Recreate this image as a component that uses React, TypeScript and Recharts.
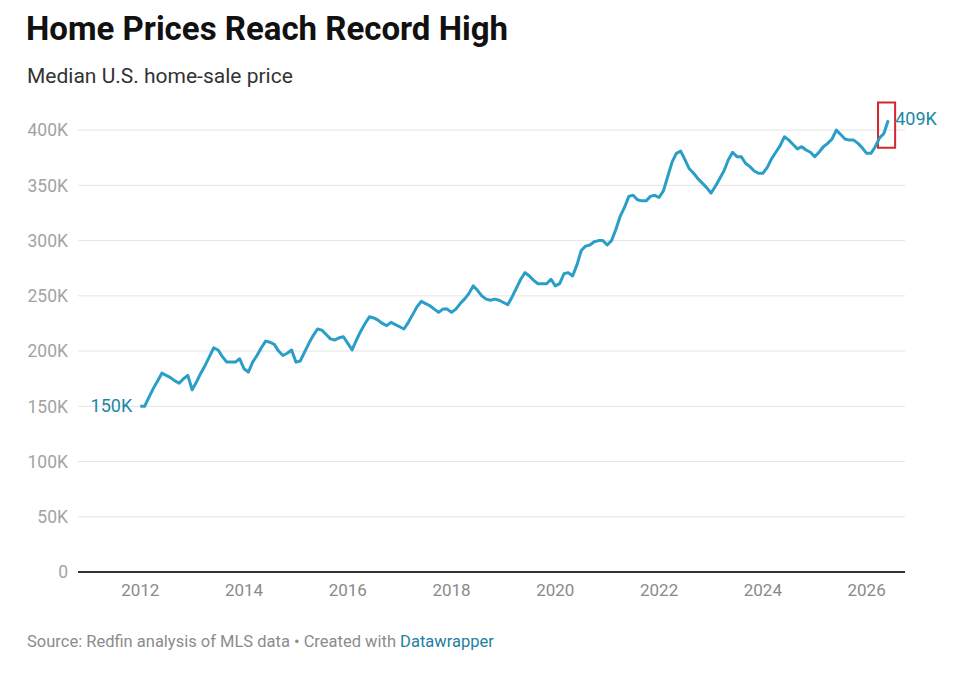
import React from 'react';
import {
  LineChart,
  Line,
  XAxis,
  YAxis,
  CartesianGrid,
  LabelList,
  ReferenceArea,
} from 'recharts';

// Median sale price, thousands of dollars, monthly from Jan 2012
const prices2012 = [150, 150, 158, 166, 173, 180, 178, 176, 173, 171, 175, 178];
const prices2013 = [165, 172, 180, 187, 195, 203, 201, 195, 190, 190, 190, 193];
const prices2014 = [184, 181, 190, 196, 203, 209, 208, 206, 200, 196, 198, 201];
const prices2015 = [190, 191, 199, 207, 214, 220, 219, 215, 211, 210, 212, 213];
const prices2016 = [207, 201, 210, 218, 225, 231, 230, 228, 225, 223, 226, 224];
const prices2017 = [222, 220, 226, 233, 240, 245, 243, 241, 238, 235, 238, 238];
const prices2018 = [235, 238, 243, 247, 252, 259, 255, 250, 247, 246, 247, 246];
const prices2019 = [244, 242, 249, 257, 265, 271, 268, 264, 261, 261, 261, 265];
const prices2020 = [259, 261, 270, 271, 268, 278, 291, 295, 296, 299, 300, 300];
const prices2021 = [296, 300, 310, 322, 330, 340, 341, 337, 336, 336, 340, 341];
const prices2022 = [339, 345, 358, 371, 379, 381, 373, 365, 361, 356, 352, 348];
const prices2023 = [343, 349, 356, 363, 373, 380, 376, 376, 370, 367, 363, 361];
const prices2024 = [361, 366, 374, 380, 386, 394, 391, 387, 383, 385, 382, 380];
const prices2025 = [376, 380, 385, 388, 392, 400, 396, 392, 391, 391, 388, 384];
const prices2026 = [379, 379, 385, 393, 397, 409];

const firstYear = 2012;
const yearTicks = [2012, 2014, 2016, 2018, 2020, 2022, 2024, 2026];
const priceTicks = [0, 50, 100, 150, 200, 250, 300, 350, 400];

// highlight box around the latest reading (data units)
const boxYears = [2026.22, 2026.55];
const boxPrices = [384, 425];

const allPrices = [
  ...prices2012, ...prices2013, ...prices2014, ...prices2015, ...prices2016,
  ...prices2017, ...prices2018, ...prices2019, ...prices2020, ...prices2021,
  ...prices2022, ...prices2023, ...prices2024, ...prices2025, ...prices2026,
];

const data = allPrices.map((price, i) => ({ t: firstYear + i / 12, price }));

const LINE = '#2a9ec6';
const LABEL = '#1b87a7';
const FONT = 'Roboto, "Noto Sans", sans-serif';

const EndLabel = (props: any) => {
  const { x, y, index, value } = props;
  if (index === 0) {
    return (
      <text x={x - 8} y={y} dy={6} textAnchor="end" fill={LABEL} fontSize={18} fontFamily={FONT}>
        {value}K
      </text>
    );
  }
  if (index === data.length - 1) {
    return (
      <text x={x + 7} y={y} dy={5} textAnchor="start" fill={LABEL} fontSize={18} fontFamily={FONT}>
        {value}K
      </text>
    );
  }
  return null;
};

export default function App() {
  return (
    <div
      style={{
        position: 'absolute',
        left: 0,
        top: 0,
        width: 975,
        height: 684,
        background: '#fff',
        fontFamily: FONT,
      }}
    >
      <div
        style={{
          position: 'absolute',
          left: 26,
          top: 12,
          fontSize: 33,
          lineHeight: '33px',
          fontWeight: 700,
          color: '#111',
        }}
      >
        Home Prices Reach Record High
      </div>
      <div
        style={{
          position: 'absolute',
          left: 27,
          top: 66,
          fontSize: 21,
          lineHeight: '21px',
          color: '#333',
        }}
      >
        Median U.S. home-sale price
      </div>

      <div style={{ position: 'absolute', left: 0, top: 0 }}>
        <LineChart
          width={975}
          height={620}
          data={data}
          margin={{ top: 97, right: 70, left: 0, bottom: 0 }}
        >
          <CartesianGrid vertical={false} stroke="#e4e4e4" horizontalValues={priceTicks} />
          <XAxis
            dataKey="t"
            type="number"
            domain={[2010.8, 2026.74]}
            ticks={yearTicks}
            tickLine={false}
            axisLine={{ stroke: '#333', strokeWidth: 2 }}
            tick={{ fontSize: 17, fill: '#8a8a8a', fontFamily: FONT }}
            tickMargin={6}
            height={48}
            allowDataOverflow
          />
          <YAxis
            type="number"
            domain={[0, 430]}
            ticks={priceTicks}
            tickLine={false}
            axisLine={false}
            width={78}
            tickMargin={4}
            tick={{ fontSize: 17.5, fill: '#a3a3a3', fontFamily: FONT }}
            tickFormatter={(v) => (v === 0 ? '0' : `${v}K`)}
          />
          <ReferenceArea
            x1={boxYears[0]}
            x2={boxYears[1]}
            y1={boxPrices[0]}
            y2={boxPrices[1]}
            fill="none"
            stroke="#d4262c"
            strokeWidth={2}
            ifOverflow="visible"
          />
          <Line
            type="linear"
            dataKey="price"
            stroke={LINE}
            strokeWidth={3}
            dot={false}
            strokeLinejoin="round"
            isAnimationActive={false}
          >
            <LabelList dataKey="price" content={EndLabel} />
          </Line>
        </LineChart>
      </div>

      <div
        style={{
          position: 'absolute',
          left: 27,
          top: 633,
          fontSize: 16.5,
          lineHeight: '17px',
          color: '#8c8c8c',
        }}
      >
        Source: Redfin analysis of MLS data • Created with{' '}
        <span style={{ color: '#1d81a2' }}>Datawrapper</span>
      </div>
    </div>
  );
}
